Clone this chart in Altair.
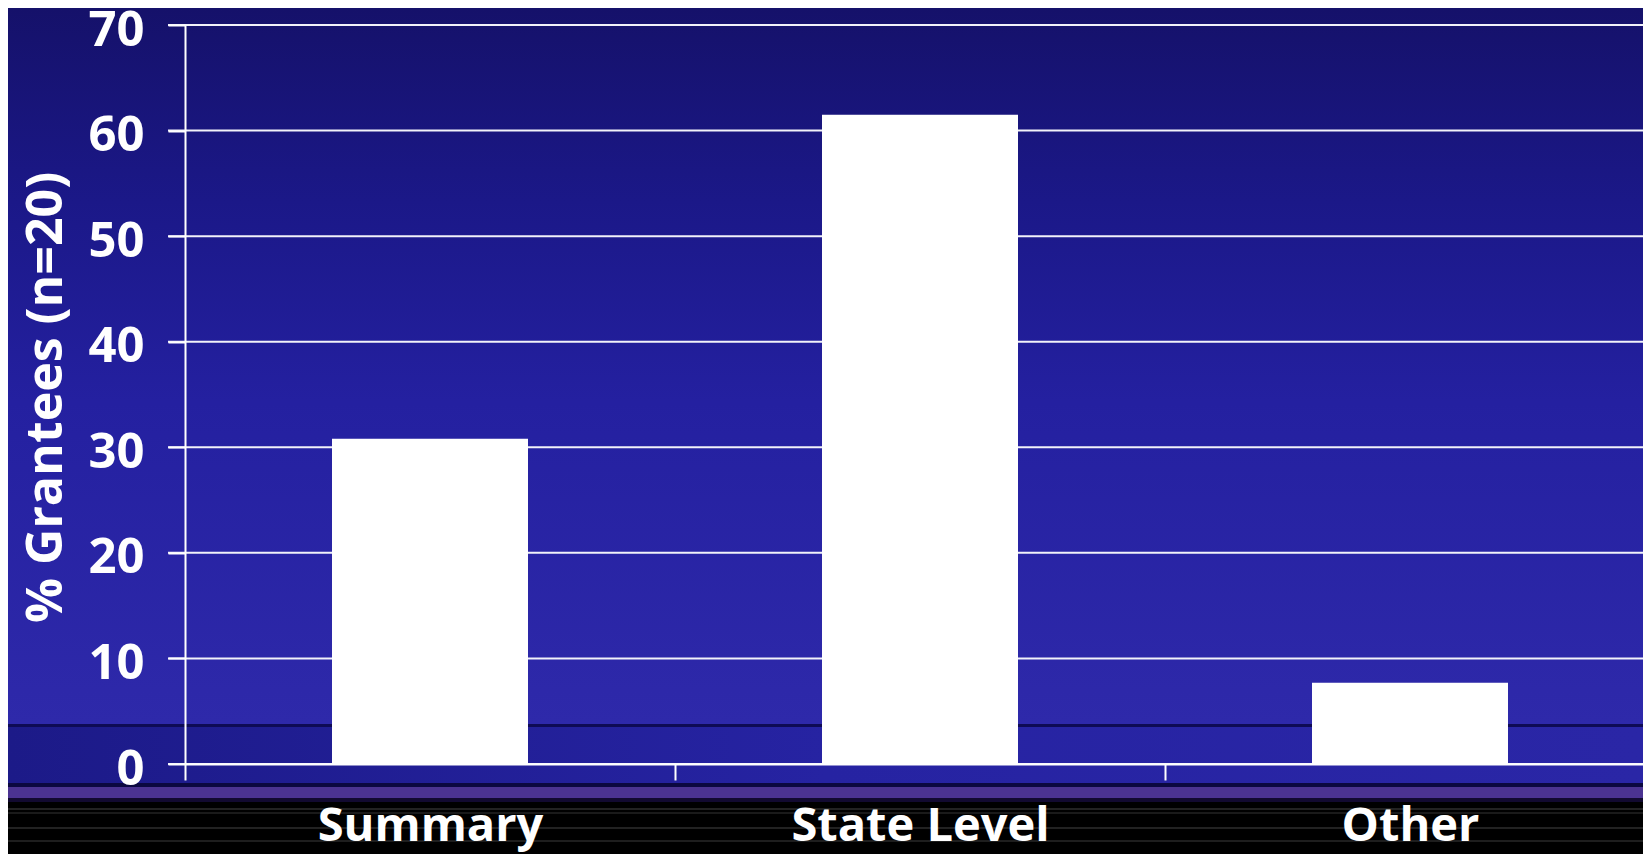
import altair as alt
import pandas as pd

# ---- data ----
categories = ["Summary", "State Level", "Other"]
values = [30.8, 61.5, 7.7]
grid_values = [0, 10, 20, 30, 40, 50, 60, 70]
y_title = "% Grantees (n=20)"

FONT = "Open Sans"
W, H = 1458, 739
RANGE_W = 1470
STEP = RANGE_W / 3

bars_df = pd.DataFrame({"category": categories, "value": values})
grid_df = pd.DataFrame({"value": grid_values})
one = alt.Data(values=[{}])

y_scale = alt.Scale(domain=[0, 70], nice=False, zero=True)
x_scale = alt.Scale(range=[0, RANGE_W], paddingInner=0.6, paddingOuter=0.3)

y_axis = alt.Axis(
    values=grid_values, grid=False, domain=True, domainColor="white", domainWidth=2,
    ticks=True, tickSize=17, tickColor="white", tickWidth=2,
    labelFont=FONT, labelFontSize=49, labelFontWeight="bold", labelColor="white",
    labelPadding=24, labelBaseline="alphabetic", labelOffset=20, labelLimit=0,
    labelOverlap=False, labelBound=False,
    title=y_title, titleFont=FONT, titleFontSize=50, titleFontWeight="bold",
    titleColor="white", titleAngle=270, titleX=-139, titleY=372,
    titleAlign="center", titleBaseline="middle", zindex=1,
)
x_axis = alt.Axis(
    title=None, labelAngle=0, domain=True, domainColor="white", domainWidth=2,
    ticks=True, tickOffset=-STEP / 2, tickSize=16, tickColor="white", tickWidth=2,
    labelOffset=STEP / 2,
    labelFont=FONT, labelFontSize=47, labelFontWeight="bold", labelColor="white",
    labelPadding=60, labelBaseline="alphabetic", labelLimit=0, grid=False, zindex=1,
)


def band(y0, y1, color, x0=-177, x1=W):
    return alt.Chart(one).mark_rect(color=color, opacity=1).encode(
        x=alt.value(x0), x2=alt.value(x1), y=alt.value(y0), y2=alt.value(y1)
    )


bg = alt.Chart(one).mark_rect(
    fill=alt.Gradient(
        gradient="linear", x1=0, x2=0, y1=0, y2=1,
        stops=[
            alt.GradientStop(color="#15116a", offset=0),
            alt.GradientStop(color="#1b1888", offset=0.27),
            alt.GradientStop(color="#2420a0", offset=0.55),
            alt.GradientStop(color="#2e29aa", offset=1),
        ],
    )
).encode(x=alt.value(-177), x2=alt.value(W), y=alt.value(-17), y2=alt.value(699))

navy = alt.Chart(one).mark_rect(
    fill=alt.Gradient(
        gradient="linear", x1=0, x2=1, y1=0, y2=0,
        stops=[
            alt.GradientStop(color="#1c1a88", offset=0),
            alt.GradientStop(color="#2623a2", offset=0.5),
            alt.GradientStop(color="#2a26a6", offset=1),
        ],
    )
).encode(x=alt.value(-177), x2=alt.value(W), y=alt.value(702), y2=alt.value(758))

decor = [
    bg,
    band(699, 702, "#0e0b55"),
    navy,
    band(758, 762, "#0b0840"),
    band(762, 773, "#4b3391"),
    band(773, 777, "#120a30"),
    band(777, 830, "#000000"),
    band(783, 785, "#222222"),
    band(787, 789, "#1a1a1a"),
    band(802, 804, "#222222"),
    band(815, 817, "#1e1e1e"),
]

rules = alt.Chart(grid_df).mark_rule(color="#f2f2fa", strokeWidth=2).encode(
    y=alt.Y("value:Q", scale=y_scale, axis=y_axis),
    x=alt.value(-17), x2=alt.value(RANGE_W),
)

bars = alt.Chart(bars_df).mark_bar(color="white").encode(
    x=alt.X("category:N", sort=categories, scale=x_scale, axis=x_axis),
    y=alt.Y("value:Q", scale=y_scale, axis=y_axis),
)

chart = alt.layer(*decor, rules, bars).properties(
    width=W, height=H,
    padding={"left": 177, "top": 17, "right": 0, "bottom": 90},
    autosize=alt.AutoSizeParams(type="none"),
    background="#000000",
).configure_view(stroke=None)

chart.save("out.html", embed_options={"renderer": "svg", "actions": False})
